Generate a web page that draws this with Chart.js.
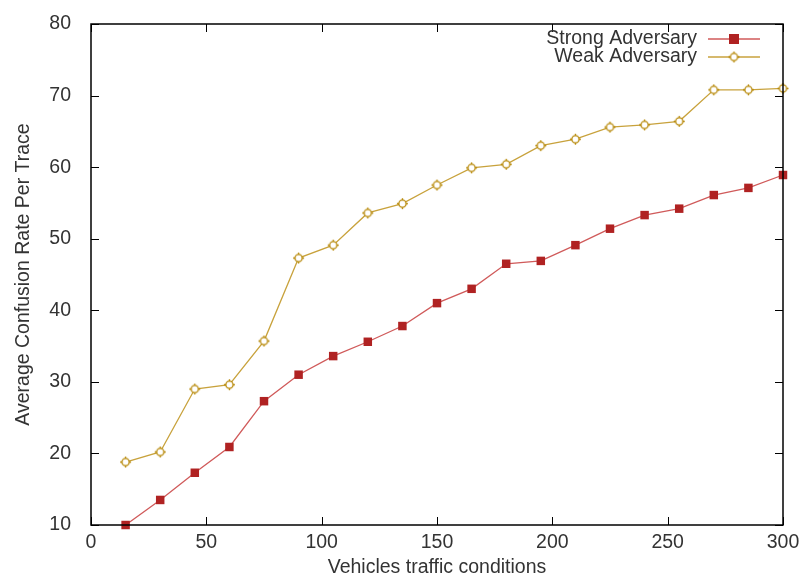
<!DOCTYPE html>
<html>
<head>
<meta charset="utf-8">
<script src="https://cdn.jsdelivr.net/npm/chart.js@4"></script>
<style>
  html, body { margin: 0; padding: 0; background: #fff; }
  #wrap { width: 801px; height: 578px; }
</style>
</head>
<body>
<div id="wrap"><canvas id="chart" width="801" height="578"></canvas></div>
<script>
const traffic = [15, 30, 45, 60, 75, 90, 105, 120, 135, 150, 165, 180, 195, 210, 225, 240, 255, 270, 285, 300];
const strongAdversary = [10, 13.5, 17.3, 20.9, 27.3, 31.0, 33.6, 35.6, 37.8, 41.0, 43.0, 46.5, 46.9, 49.1, 51.4, 53.3, 54.2, 56.1, 57.1, 58.9];
const weakAdversary = [18.8, 20.2, 29.0, 29.6, 35.7, 47.3, 49.1, 53.6, 54.9, 57.5, 59.9, 60.4, 63.0, 63.9, 65.6, 65.9, 66.4, 70.8, 70.8, 71.0];
const xTicks = [0, 50, 100, 150, 200, 250, 300];
const yTicks = [10, 20, 30, 40, 50, 60, 70, 80];

const fontFamily = '"Liberation Sans", Arial, sans-serif';
const textColor = '#333333';

// gnuplot-like open circle with short tick marks
function circlePlus(color) {
    const c = document.createElement('canvas');
    c.width = 13; c.height = 13;
    const g = c.getContext('2d');
    g.strokeStyle = color;
    g.fillStyle = '#fff';
    g.lineWidth = 1.3;
    g.beginPath();
    g.arc(6.5, 6.5, 3.6, 0, Math.PI * 2);
    g.fill();
    g.stroke();
    g.beginPath();
    g.moveTo(6.5, 1); g.lineTo(6.5, 3);
    g.moveTo(6.5, 10); g.lineTo(6.5, 12);
    g.moveTo(1, 6.5); g.lineTo(3, 6.5);
    g.moveTo(10, 6.5); g.lineTo(12, 6.5);
    g.stroke();
    return c;
}
const weakMarker = circlePlus('#b88a0c');

const series = [
    { label: 'Strong Adversary', data: strongAdversary, line: '#d05a5a', mark: '#b02222', style: 'rect', radius: 6 },
    { label: 'Weak Adversary', data: weakAdversary, line: '#c8a23c', mark: '#b88a0c', style: weakMarker, radius: 6 }
];

// frame, inward ticks on all sides, legend
const framePlugin = {
    id: 'frame',
    afterDraw(chart) {
        const { ctx, chartArea: a, scales } = chart;
        ctx.save();
        ctx.strokeStyle = '#000';
        ctx.lineWidth = 1.5;
        ctx.strokeRect(a.left, a.top, a.right - a.left, a.bottom - a.top);
        ctx.lineWidth = 1;
        const len = 8;
        ctx.beginPath();
        xTicks.forEach((v) => {
            const x = Math.round(scales.x.getPixelForValue(v)) + 0.5;
            ctx.moveTo(x, a.bottom); ctx.lineTo(x, a.bottom - len);
            ctx.moveTo(x, a.top); ctx.lineTo(x, a.top + len);
        });
        yTicks.forEach((v) => {
            const y = Math.round(scales.y.getPixelForValue(v)) + 0.5;
            ctx.moveTo(a.left, y); ctx.lineTo(a.left + len, y);
            ctx.moveTo(a.right, y); ctx.lineTo(a.right - len, y);
        });
        ctx.stroke();

        // legend
        ctx.font = '19.5px ' + fontFamily;
        ctx.textAlign = 'right';
        ctx.textBaseline = 'middle';
        series.forEach((s, i) => {
            const y = a.top + 15 + i * 18;
            ctx.fillStyle = textColor;
            ctx.fillText(s.label, a.right - 86, y);
            ctx.strokeStyle = s.line;
            ctx.lineWidth = 1.3;
            ctx.beginPath();
            ctx.moveTo(a.right - 75, y); ctx.lineTo(a.right - 23, y);
            ctx.stroke();
            if (s.style === 'rect') {
                ctx.fillStyle = s.mark;
                ctx.fillRect(a.right - 54, y - 5, 10, 10);
            } else {
                ctx.drawImage(s.style, a.right - 55.5, y - 6.5);
            }
        });
        ctx.restore();
    }
};

new Chart(document.getElementById('chart').getContext('2d'), {
    type: 'line',
    data: {
        labels: traffic,
        datasets: series.map((s) => ({
            label: s.label,
            data: s.data.map((v, i) => ({ x: traffic[i], y: v })),
            borderColor: s.line,
            borderWidth: 1.3,
            pointStyle: s.style,
            pointRadius: s.radius,
            pointBackgroundColor: s.mark,
            pointBorderColor: s.mark,
            pointBorderWidth: 0,
            tension: 0,
            fill: false,
            clip: false
        }))
    },
    options: {
        responsive: false,
        animation: false,
        layout: { padding: { top: 24, right: 18, left: 0, bottom: 0 } },
        plugins: { legend: { display: false }, tooltip: { enabled: false } },
        scales: {
            x: {
                type: 'linear',
                min: 0,
                max: 300,
                afterBuildTicks: (scale) => { scale.ticks = xTicks.map((v) => ({ value: v })); },
                afterFit: (scale) => { scale.height = 53; },
                grid: { display: false },
                border: { display: false },
                ticks: { color: textColor, font: { size: 19.5, family: fontFamily }, padding: -2, maxRotation: 0 },
                title: { display: true, text: 'Vehicles traffic conditions', color: textColor, font: { size: 19.5, family: fontFamily }, padding: { top: 0, bottom: -1 } }
            },
            y: {
                min: 10,
                max: 80,
                afterBuildTicks: (scale) => { scale.ticks = yTicks.map((v) => ({ value: v })); },
                afterFit: (scale) => { scale.width = 91; },
                grid: { display: false },
                border: { display: false },
                ticks: { color: textColor, font: { size: 19.5, family: fontFamily }, padding: 12 },
                title: { display: true, text: 'Average Confusion Rate Per Trace', color: textColor, font: { size: 19.5, family: fontFamily }, padding: { top: 12, bottom: 4 } }
            }
        }
    },
    plugins: [framePlugin]
});
</script>
</body>
</html>
